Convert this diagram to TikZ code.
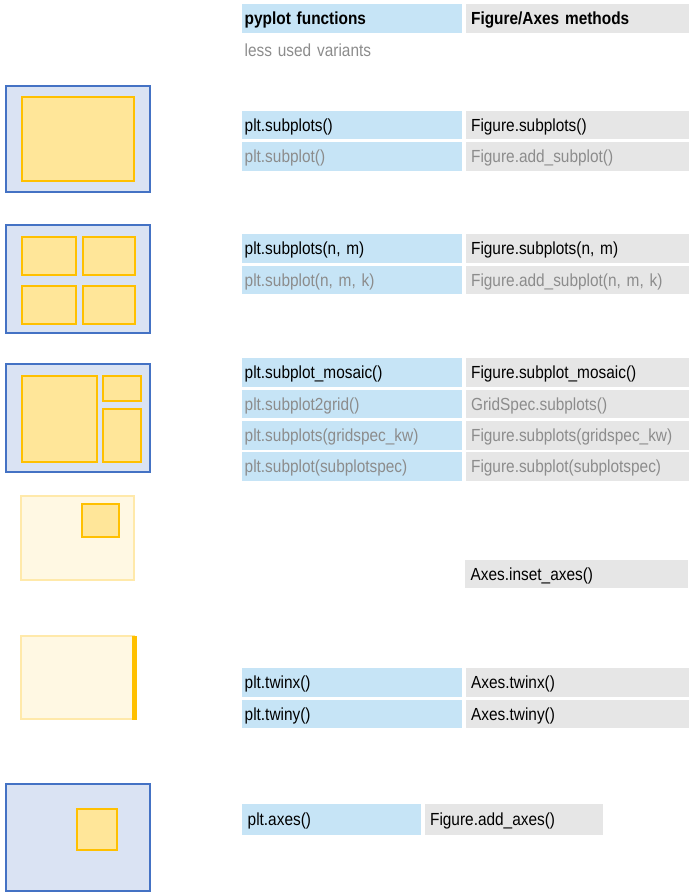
\documentclass[tikz,border=0pt]{standalone}
\usepackage{fontspec}
\newfontfamily\cellfont{Liberation Sans}[FakeStretch=0.88,WordSpace=0.85]
\newcommand{\tabfont}{\cellfont\fontsize{17.5}{20}\selectfont}
\usetikzlibrary{positioning}
\definecolor{pyblue}{HTML}{C6E4F6}
\definecolor{methgray}{HTML}{E6E6E6}
\definecolor{lessgray}{HTML}{8C8C8C}
\definecolor{figedge}{HTML}{4472C4}
\definecolor{figfill}{HTML}{DAE3F3}
\definecolor{axedge}{HTML}{FFC000}
\definecolor{axfill}{HTML}{FFE699}
\definecolor{paleedge}{HTML}{FFE9AA}
\definecolor{palefill}{HTML}{FFF8E3}

\begin{document}
\begin{tikzpicture}[x=1pt,y=-1pt,
    cell/.style={inner ysep=0pt, minimum height=28.5pt, text height=12.5pt, text depth=0pt, align=left, font=\tabfont},
    pyfn/.style={cell, fill=pyblue, inner xsep=2.5pt, text width=215pt},
    meth/.style={cell, fill=methgray, inner xsep=5.5pt, text width=212pt},
    less/.style={text=lessgray},
    figbox/.style={draw=figedge, fill=figfill, line width=2pt},
    axbox/.style={draw=axedge, fill=axfill, line width=2pt},
    palebox/.style={draw=paleedge, fill=palefill, line width=2pt},
    node distance=2.5pt and 3pt]
    \useasboundingbox (0,0) rectangle (696,896);

    % header
    \node(hdpy) [pyfn, anchor=north west, font=\tabfont\bfseries] at (242,4) {pyplot functions};
    \node(hdmeth) [meth, right=of hdpy, font=\tabfont\bfseries] {Figure/Axes methods};
    \node(lessnote) [cell, less, inner xsep=2.5pt, text width=215pt, below=3pt of hdpy] {less used variants};

    % single axes
    \draw[figbox] (6.3,85.7) rectangle (150,191.7);
    \draw[axbox] (22.3,97.3) rectangle (134.3,181);
    \node(subpy) [pyfn, anchor=north west] at (242,110.5) {plt.subplots()};
    \node(submeth) [meth, right=of subpy] {Figure.subplots()};
    \node(addpy) [pyfn, less, below=of subpy] {plt.subplot()};
    \node(addmeth) [meth, less, right=of addpy] {Figure.add\_subplot()};

    % grid of axes
    \draw[figbox] (6.3,224.5) rectangle (150,332.5);
    \draw[axbox] (22.4,236.7) rectangle (75.8,275.3);
    \draw[axbox] (82.7,236.7) rectangle (135.2,275.3);
    \draw[axbox] (22.4,285.7) rectangle (75.8,324.3);
    \draw[axbox] (82.7,285.7) rectangle (135.2,324.3);
    \node(gridpy) [pyfn, anchor=north west] at (242,234) {plt.subplots(n, m)};
    \node(gridmeth) [meth, right=of gridpy] {Figure.subplots(n, m)};
    \node(gridaddpy) [pyfn, less, below=of gridpy] {plt.subplot(n, m, k)};
    \node(gridaddmeth) [meth, less, right=of gridaddpy] {Figure.add\_subplot(n, m, k)};

    % mosaic
    \draw[figbox] (6.3,364) rectangle (150,472);
    \draw[axbox] (21.5,376) rectangle (97,462);
    \draw[axbox] (103,376) rectangle (141,401);
    \draw[axbox] (103,409) rectangle (141,462);
    \node(mospy) [pyfn, anchor=north west] at (242,358) {plt.subplot\_mosaic()};
    \node(mosmeth) [meth, right=of mospy] {Figure.subplot\_mosaic()};
    \node(s2gpy) [pyfn, less, below=of mospy] {plt.subplot2grid()};
    \node(s2gmeth) [meth, less, right=of s2gpy] {GridSpec.subplots()};
    \node(gskwpy) [pyfn, less, below=of s2gpy] {plt.subplots(gridspec\_kw)};
    \node(gskwmeth) [meth, less, right=of gskwpy] {Figure.subplots(gridspec\_kw)};
    \node(specpy) [pyfn, less, below=of gskwpy] {plt.subplot(subplotspec)};
    \node(specmeth) [meth, less, right=of specpy] {Figure.subplot(subplotspec)};

    % inset
    \draw[palebox] (21,495.5) rectangle (133.5,579.5);
    \draw[axbox] (82.3,504.3) rectangle (118.7,537.3);
    \node(insetmeth) [meth, anchor=north west] at (465,559.5) {Axes.inset\_axes()};

    % twins
    \draw[palebox] (21,635.5) rectangle (134,719.3);
    \fill[axedge] (132,635.5) rectangle (137,720);
    \node(twxpy) [pyfn, anchor=north west] at (242,668) {plt.twinx()};
    \node(twxmeth) [meth, right=of twxpy] {Axes.twinx()};
    \node(twypy) [pyfn, below=of twxpy] {plt.twiny()};
    \node(twymeth) [meth, right=of twypy] {Axes.twiny()};

    % free axes
    \draw[figbox] (6.3,784) rectangle (150,891);
    \draw[axbox] (76.9,808.7) rectangle (116.9,850);
    \node(axespy) [pyfn, anchor=north west, inner xsep=5.5pt, text width=168pt, minimum height=31pt] at (242,804) {plt.axes()};
    \node(axesmeth) [meth, text width=167pt, minimum height=31pt, right=of axespy] {Figure.add\_axes()};
\end{tikzpicture}
\end{document}
